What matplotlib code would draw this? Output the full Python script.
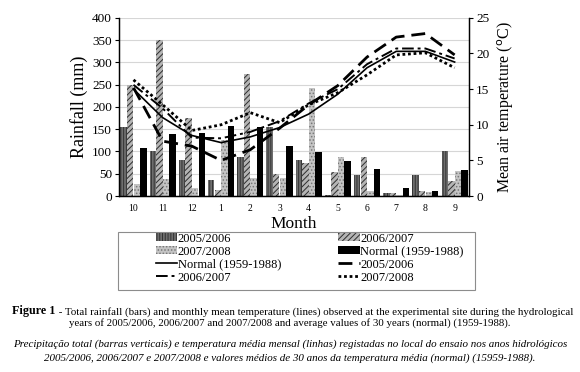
import numpy as np
import matplotlib
matplotlib.use("Agg")
import matplotlib.pyplot as plt
from matplotlib.patches import Rectangle

plt.rcParams['font.family'] = ['Liberation Serif', 'DejaVu Serif']
plt.rcParams['hatch.linewidth'] = 0.7

# months of the hydrological year
months = ['10', '11', '12', '1', '2', '3', '4', '5', '6', '7', '8', '9']

# rainfall (mm)
rain_0506 = [155, 100, 81, 36, 88, 154, 81, 2, 47, 6, 47, 100]
rain_0607 = [250, 350, 175, 13, 275, 50, 74, 53, 88, 6, 12, 34]
rain_0708 = [27, 39, 19, 125, 41, 41, 243, 88, 12, 3, 8, 57]
rain_norm = [107, 140, 142, 158, 154, 112, 99, 78, 60, 17, 12, 58]

# mean air temperature (C)
temp_norm = [15.0, 11.0, 8.5, 7.5, 8.3, 9.6, 11.5, 14.3, 18.0, 20.3, 20.3, 18.8]
temp_0506 = [15.2, 7.7, 7.0, 5.0, 6.5, 9.5, 12.8, 15.5, 19.5, 22.3, 22.8, 19.8]
temp_0607 = [15.6, 12.3, 8.2, 8.1, 9.0, 10.5, 13.0, 15.0, 18.5, 20.7, 20.7, 19.3]
temp_0708 = [16.3, 12.8, 9.2, 10.0, 11.7, 10.3, 12.8, 14.5, 17.0, 19.8, 20.1, 18.0]

fig = plt.figure(figsize=(5.8, 3.72), dpi=100)
ax = fig.add_axes([0.205, 0.473, 0.604, 0.479])
ax2 = ax.twinx()

x = np.arange(len(months))
w = 0.22
step = 0.225

b1 = ax.bar(x - 1.5 * step, rain_0506, w, facecolor='#6e6e6e', edgecolor='#333333',
            hatch='||||||', linewidth=0)
b2 = ax.bar(x - 0.5 * step, rain_0607, w, facecolor='#b4b4b4', edgecolor='#2e2e2e',
            hatch='//////', linewidth=0)
b3 = ax.bar(x + 0.5 * step, rain_0708, w, facecolor='#c4c4c4', edgecolor='#777777',
            hatch='.....', linewidth=0)
b4 = ax.bar(x + 1.5 * step, rain_norm, w, color='black', linewidth=0)

l1, = ax2.plot(x, temp_norm, color='black', lw=1.2, ls='-')
l2, = ax2.plot(x, temp_0506, color='black', lw=2.0, ls=(0, (5, 2.5)))
l3, = ax2.plot(x, temp_0607, color='black', lw=1.4, ls=(0, (6, 2, 1.5, 2)))
l4, = ax2.plot(x, temp_0708, color='black', lw=2.0, ls=(0, (1, 1)))

ax.set_xlim(-0.5, 11.5)
ax.set_ylim(0, 400)
ax.set_yticks(np.arange(0, 401, 50))
ax2.set_ylim(0, 25)
ax2.set_yticks(np.arange(0, 26, 5))
ax.set_xticks(x)
ax.set_xticklabels(months, fontsize=7)
ax.tick_params(axis='x', length=0, pad=6)
ax.tick_params(axis='y', labelsize=9.5, length=3, width=0.8, pad=2)
ax2.tick_params(axis='y', labelsize=9.5, length=3, width=0.8, pad=2)

ax.yaxis.grid(True, color='#d6d6d6', lw=0.8)
ax.set_axisbelow(True)
for a in (ax, ax2):
    a.spines['top'].set_visible(False)
    a.spines['left'].set_linewidth(0.9)
    a.spines['right'].set_linewidth(0.9)
    a.spines['bottom'].set_linewidth(0.9)

ax.set_xlabel('Month', fontsize=12.5, labelpad=2)
ax.set_ylabel('Rainfall (mm)', fontsize=13, labelpad=3)
ax2.set_ylabel('Mean air temperature ($^{\\rm o}$C)', fontsize=11.5, labelpad=4)

handles = [b1, b3, l1, l3, b2, b4, l2, l4]
labels = ['2005/2006', '2007/2008', 'Normal (1959-1988)', '2006/2007',
          '2006/2007', 'Normal (1959-1988)', '2005/2006', '2007/2008']
fig.legend(handles, labels, ncol=2, loc='center', bbox_to_anchor=(0.534, 0.306),
           frameon=False, fontsize=9, handlelength=1.7, handletextpad=0.05,
           columnspacing=4.6, labelspacing=0.08, borderpad=0.1, handleheight=0.6)
fig.add_artist(Rectangle((0.203, 0.220), 0.616, 0.156, transform=fig.transFigure,
                         fill=False, edgecolor='#8c8c8c', lw=0.8))

# caption
t1 = fig.text(0.021, 0.155, 'Figure 1', fontsize=8.7, fontweight='bold', va='baseline')
ax.annotate(' - Total rainfall (bars) and monthly mean temperature (lines) observed at the '
            'experimental site during the hydrological', xy=(1, 0), xycoords=t1,
            fontsize=7.8, va='bottom', ha='left', annotation_clip=False)
fig.text(0.5, 0.132, 'years of 2005/2006, 2006/2007 and 2007/2008 and average values of 30 '
         'years (normal) (1959-1988).', fontsize=7.8, ha='center', va='center')
fig.text(0.5, 0.075, 'Precipitação total (barras verticais) e temperatura média mensal (linhas) '
         'registadas no local do ensaio nos anos hidrológicos', fontsize=7.9,
         style='italic', ha='center', va='center')
fig.text(0.5, 0.038, '2005/2006, 2006/2007 e 2007/2008 e valores médios de 30 anos da '
         'temperatura média (normal) (15959-1988).', fontsize=7.9,
         style='italic', ha='center', va='center')

fig.savefig('out.png', dpi=100)
